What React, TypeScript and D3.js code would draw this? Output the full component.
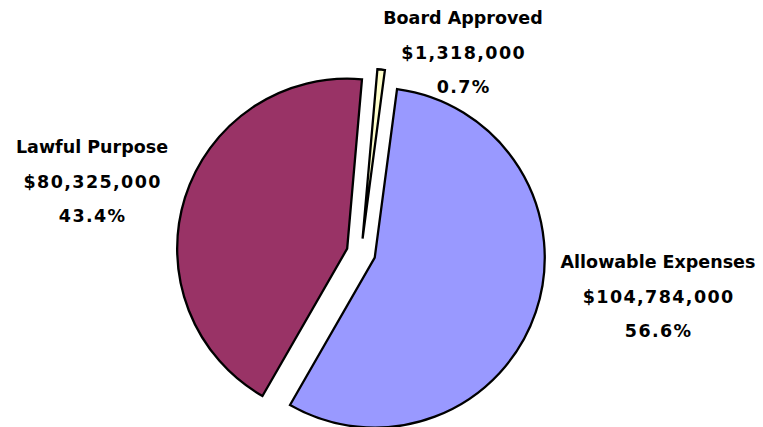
import React from "react";
import * as d3 from "d3";

const categories = ["Board Approved", "Allowable Expenses", "Lawful Purpose"];
const values = [1318000, 104784000, 80325000];
const amountLabels = ["$1,318,000", "$104,784,000", "$80,325,000"];
const percentLabels = ["0.7%", "56.6%", "43.4%"];
const colors = ["#FFFFCC", "#9999FF", "#993366"];
const labelPos = [
  [463, 18],
  [658, 262],
  [92, 147],
];

const W = 763;
const H = 427;
const cx = 361;
const cy = 253;
const R = 170;
const explode = 14.5;
const ls = 1.4;

export default function App() {
  const pie = d3
    .pie<number>()
    .sort(null)
    .startAngle((5 * Math.PI) / 180)
    .endAngle((365 * Math.PI) / 180);
  const arcs = pie(values);
  const arc = d3.arc<d3.PieArcDatum<number>>().innerRadius(0).outerRadius(R);

  return (
    <svg
      width={W}
      height={H}
      style={{ position: "absolute", left: 0, top: 0, background: "#fff" }}
    >
      {arcs.map((a, i) => {
        const mid = (a.startAngle + a.endAngle) / 2;
        const dx = Math.sin(mid) * explode;
        const dy = -Math.cos(mid) * explode;
        return (
          <path
            key={i}
            d={arc(a) || ""}
            transform={`translate(${cx + dx},${cy + dy})`}
            fill={colors[i]}
            stroke="#000"
            strokeWidth={2.3}
            strokeLinejoin="miter"
          />
        );
      })}
      {categories.map((c, i) => {
        const x = labelPos[i][0];
        const y = labelPos[i][1];
        const common = {
          textAnchor: "middle" as const,
          fontFamily: "'DejaVu Sans', sans-serif",
          fontWeight: "bold",
          fontSize: 17.5,
          fill: "#000",
          dominantBaseline: "central" as const,
        };
        return (
          <g key={c}>
            <text x={x} y={y} {...common}>{c}</text>
            <text x={x + ls / 2} y={y + 35} letterSpacing={ls} {...common}>
              {amountLabels[i]}
            </text>
            <text x={x + ls / 2} y={y + 69} letterSpacing={ls} {...common}>
              {percentLabels[i]}
            </text>
          </g>
        );
      })}
    </svg>
  );
}
